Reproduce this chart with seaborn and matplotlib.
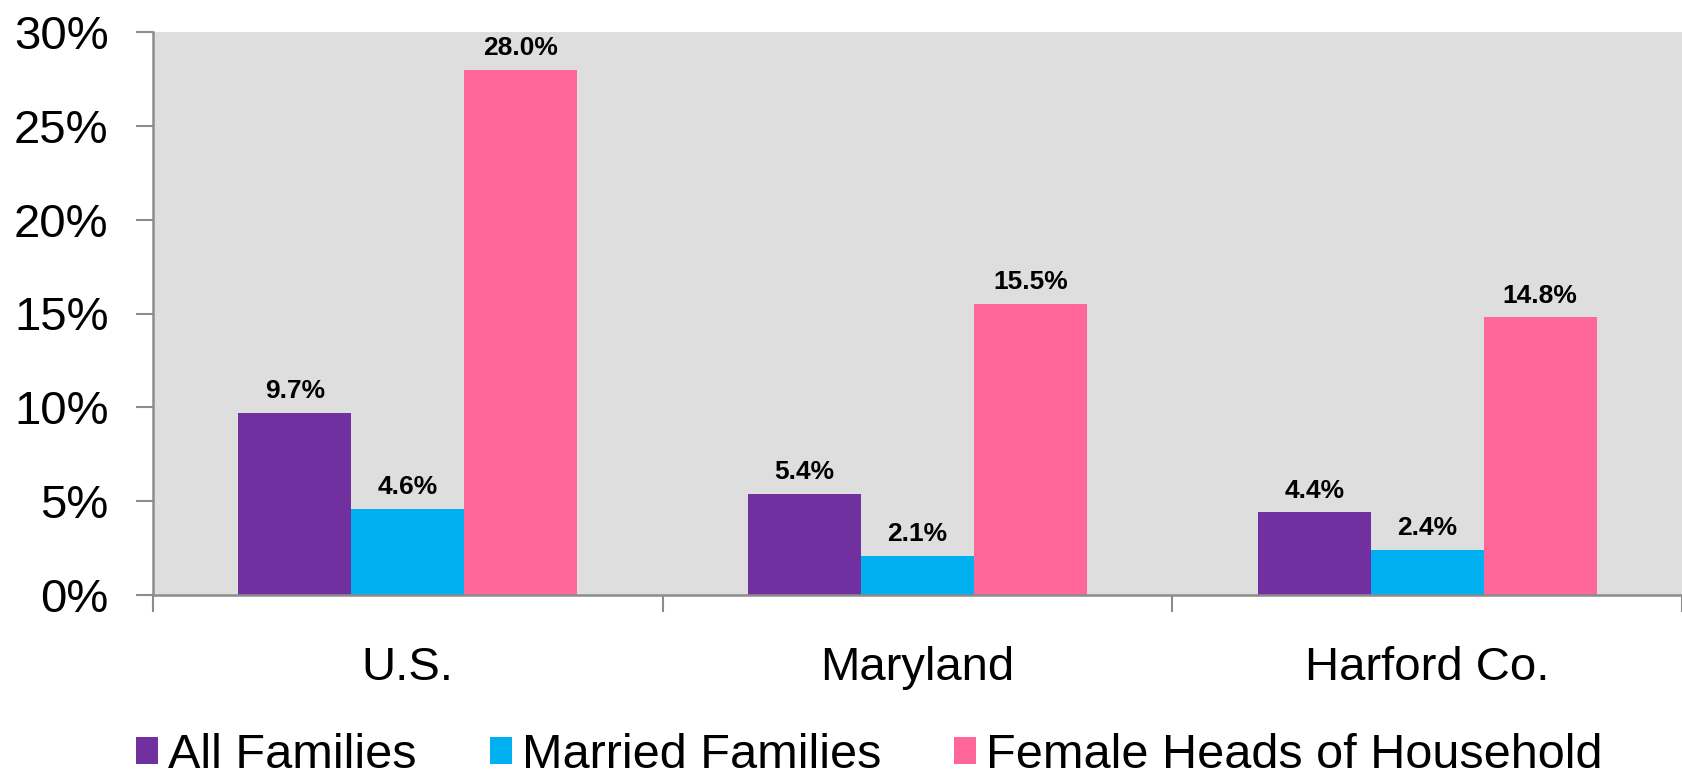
import pandas as pd
import matplotlib.pyplot as plt
import seaborn as sns
from matplotlib.ticker import PercentFormatter

# Dados
regioes = ['U.S.', 'Maryland', 'Harford Co.']
grupos = ['All Families', 'Married Families', 'Female Heads of Household']
all_families = [9.7, 5.4, 4.4]
married_families = [4.6, 2.1, 2.4]
female_heads = [28.0, 15.5, 14.8]
cores = ['#7030A0', '#00B0F0', '#FF6699']

df = pd.DataFrame({
    'Regiao': regioes * 3,
    'Grupo': [g for g in grupos for _ in regioes],
    'Valor': all_families + married_families + female_heads,
})

sns.set_style("white")
plt.rcParams['font.family'] = ['Liberation Sans', 'DejaVu Sans']
plt.rcParams['text.color'] = 'black'
plt.rcParams['xtick.color'] = 'black'
plt.rcParams['ytick.color'] = 'black'

fig = plt.figure(figsize=(16.82, 7.78), dpi=100)
ax = fig.add_axes([153 / 1682, 1 - 595 / 778, 1 - 153 / 1682, (595 - 32) / 778])
ax.set_facecolor('#DEDEDE')

sns.barplot(data=df, x='Regiao', y='Valor', hue='Grupo', order=regioes,
            hue_order=grupos, palette=cores, width=0.665, saturation=1,
            linewidth=0, ax=ax)

# Rótulos das barras
for cont in ax.containers:
    ax.bar_label(cont, labels=[f'{b.get_height():.1f}%' for b in cont],
                 padding=7, fontsize=19, fontweight='bold', color='black')

ax.set_ylim(0, 30)
ax.set_yticks(range(0, 31, 5))
ax.yaxis.set_major_formatter(PercentFormatter(decimals=0))
ax.set_xlim(-0.5, 2.5)
ax.set_xlabel('')
ax.set_ylabel('')

# Marcas entre grupos
ax.set_xticks([-0.5, 0.5, 1.5, 2.5], minor=True)
ax.tick_params(axis='x', which='major', bottom=True, length=0, pad=37,
               labelsize=34, labelcolor='black')
ax.tick_params(axis='x', which='minor', bottom=True, length=12, width=1.5,
               color='#8C8C8C', direction='out')
ax.tick_params(axis='y', left=True, length=12, width=1.5, color='#8C8C8C',
               direction='out', pad=20, labelsize=34, labelcolor='black')

for lado in ['top', 'right']:
    ax.spines[lado].set_visible(False)
for lado in ['left', 'bottom']:
    ax.spines[lado].set_color('#8C8C8C')
    ax.spines[lado].set_linewidth(1.8)

# Legenda
handles, labels = ax.get_legend_handles_labels()
ax.get_legend().remove()
fig.legend(handles, labels, loc='lower left', bbox_to_anchor=(136 / 1682, 0.0),
           ncol=3, frameon=False, fontsize=35, handlelength=0.46, handleheight=0.46,
           handletextpad=0.2, columnspacing=1.5, borderpad=0, borderaxespad=0)

plt.savefig('out.png', dpi=100)
